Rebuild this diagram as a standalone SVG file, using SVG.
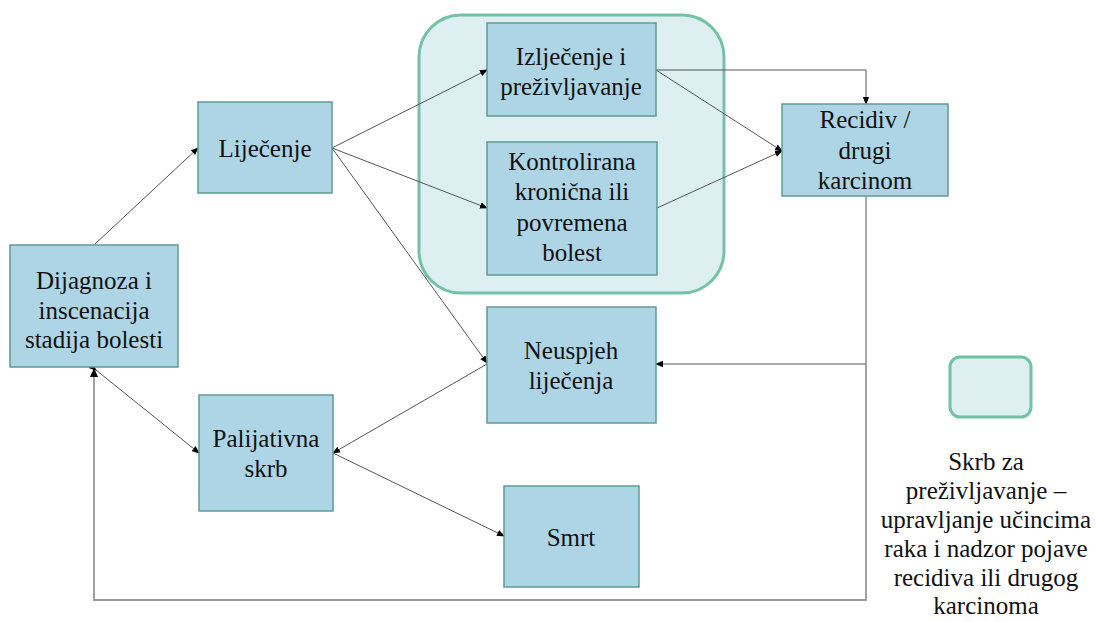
<svg xmlns="http://www.w3.org/2000/svg" width="1097" height="622" viewBox="0 0 1097 622" font-family="'Liberation Serif', 'Times New Roman', Times, serif">
<style>
.node rect{fill:#ADD5E6;stroke:#5E9C92;stroke-width:1.5}
.node text,.legend text{font-size:25px;fill:#111;text-anchor:middle}
.c{fill:none;stroke:#555;stroke-width:1;marker-end:url(#ah)}
.loop{fill:none;stroke:#999;stroke-width:1.8}
</style>
<defs>
<marker id="ah" markerWidth="8" markerHeight="8" refX="7" refY="4" orient="auto" markerUnits="userSpaceOnUse">
<path d="M0,0.8 L8,4 L0,7.2 z" fill="#000"/>
</marker>
</defs>
<g id="survivorship-group">
<rect x="419" y="15" width="305" height="278" rx="42" fill="#DEEFF1" stroke="#74C2A4" stroke-width="3"/>
</g>
<g id="connectors">
<path class="c" d="M95,244 L198,148"/>
<path class="c" d="M332,148 L487,70"/>
<path class="c" d="M332,148 L487,208"/>
<path class="c" d="M332,148 L487,363"/>
<path class="c" d="M656,70 L782,151"/>
<path class="c" d="M657,208 L782,151"/>
<path class="c" d="M656,70 L866,70 L866,104"/>
<path class="c" d="M866,196 L866,364 L656,364"/>
<path class="loop" d="M866,364 L866,600 L94,600 L94,376"/>
<path d="M94,368 L90,377 L98,377 z" fill="#000"/>
<path class="c" d="M487,364 L333,453"/>
<path class="c" d="M333,453 L504,536"/>
<path class="c" style="marker-start:url(#ah)" d="M96,370 L199,453"/>
</g>
<g id="n-dijagnoza" class="node">
<rect x="10" y="245" width="168" height="122"/>
<text x="94" y="289">Dijagnoza i</text>
<text x="94" y="319">inscenacija</text>
<text x="94" y="348">stadija bolesti</text>
</g>
<g id="n-lijecenje" class="node">
<rect x="198" y="102" width="134" height="91"/>
<text x="265" y="157">Liječenje</text>
</g>
<g id="n-izlijecenje" class="node">
<rect x="487" y="23" width="169" height="93"/>
<text x="571" y="65">Izlječenje  i</text>
<text x="571" y="95">preživljavanje</text>
</g>
<g id="n-kontrolirana" class="node">
<rect x="487" y="142" width="170" height="133"/>
<text x="572" y="170">Kontrolirana</text>
<text x="572" y="200">kronična ili</text>
<text x="572" y="231">povremena</text>
<text x="572" y="261">bolest</text>
</g>
<g id="n-recidiv" class="node">
<rect x="782" y="104" width="166" height="92"/>
<text x="865" y="128">Recidiv /</text>
<text x="865" y="159">drugi</text>
<text x="865" y="189">karcinom</text>
</g>
<g id="n-neuspjeh" class="node">
<rect x="487" y="307" width="169" height="116"/>
<text x="571" y="359">Neuspjeh</text>
<text x="571" y="389">liječenja</text>
</g>
<g id="n-palijativna" class="node">
<rect x="199" y="395" width="134" height="116"/>
<text x="266" y="447">Palijativna</text>
<text x="266" y="477">skrb</text>
</g>
<g id="n-smrt" class="node">
<rect x="504" y="486" width="135" height="101"/>
<text x="571" y="546">Smrt</text>
</g>
<g id="legend" class="legend">
<rect x="950" y="357" width="81" height="60" rx="10" fill="#DEEFF1" stroke="#74C2A4" stroke-width="3"/>
<text x="986" y="470">Skrb za</text>
<text x="986" y="499">preživljavanje –</text>
<text x="986" y="528">upravljanje učincima</text>
<text x="986" y="557">raka i nadzor pojave</text>
<text x="986" y="586">recidiva ili drugog</text>
<text x="986" y="614">karcinoma</text>
</g>
</svg>
